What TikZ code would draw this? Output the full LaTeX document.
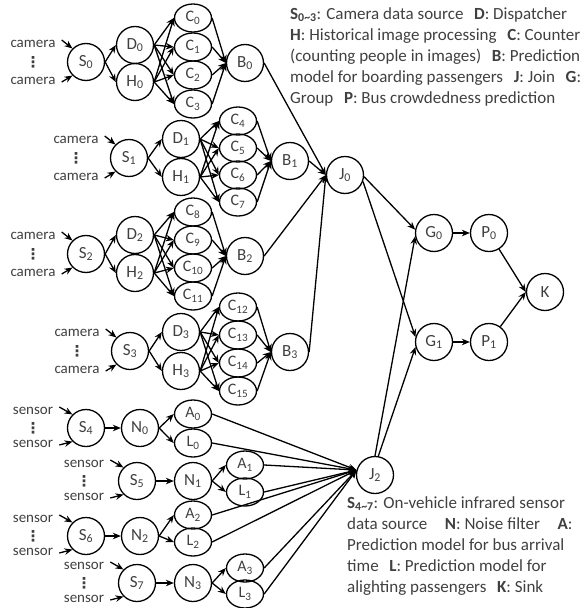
\documentclass[tikz,border=0pt]{standalone}
\usepackage{fontspec}
\setmainfont{Carlito}
\newfontfamily\symfont{DejaVu Sans}
\usetikzlibrary{arrows.meta,shapes.geometric}
\definecolor{labgray}{HTML}{404040}
\newcommand{\sub}[1]{\textsubscript{#1}}

\begin{document}
\begin{tikzpicture}[x=1pt,y=-1pt,
    op/.style={circle,draw,line width=1.3pt,minimum size=37pt,inner sep=0pt,
      text=labgray,font=\fontsize{17}{17}\selectfont},
    cnt/.style={ellipse,draw,line width=1.3pt,minimum width=37pt,minimum height=28pt,
      inner sep=0pt,text=labgray,font=\fontsize{16}{16}\selectfont},
    src/.style={text=labgray,font=\fontsize{15}{15}\selectfont,inner sep=1pt},
    vdots/.style={text=labgray,font=\fontsize{15}{15}\symfont\bfseries,inner sep=0pt},
    arr/.style={line width=1.3pt,-{Stealth[length=8pt,width=6.5pt]}},
    legend/.style={text=labgray,font=\fontsize{17}{21}\selectfont,align=left,inner sep=0pt}]
  \useasboundingbox (0,0) rectangle (588,608);

  % Camera sources, dispatchers, historical processing
  \node[op] (S0) at (86,62) {S\sub{0}};
  \node[op] (D0) at (135,45) {D\sub{0}};
  \node[op] (H0) at (135,82) {H\sub{0}};
  \node[op] (S1) at (129,158) {S\sub{1}};
  \node[op] (D1) at (181,139) {D\sub{1}};
  \node[op] (H1) at (181,177) {H\sub{1}};
  \node[op] (S2) at (86,254) {S\sub{2}};
  \node[op] (D2) at (135,235) {D\sub{2}};
  \node[op] (H2) at (135,273) {H\sub{2}};
  \node[op] (S3) at (130,351) {S\sub{3}};
  \node[op] (D3) at (181,332) {D\sub{3}};
  \node[op] (H3) at (181,371) {H\sub{3}};

  % Counters
  \node[cnt] (C0) at (193,18) {C\sub{0}};
  \node[cnt] (C1) at (193,47) {C\sub{1}};
  \node[cnt] (C2) at (193,75) {C\sub{2}};
  \node[cnt] (C3) at (193,104) {C\sub{3}};
  \node[cnt] (C4) at (238,121) {C\sub{4}};
  \node[cnt] (C5) at (238,148) {C\sub{5}};
  \node[cnt] (C6) at (238,175) {C\sub{6}};
  \node[cnt] (C7) at (238,202) {C\sub{7}};
  \node[cnt] (C8) at (193,212) {C\sub{8}};
  \node[cnt] (C9) at (193,240) {C\sub{9}};
  \node[cnt] (C10) at (193,268) {C\sub{10}};
  \node[cnt] (C11) at (193,296) {C\sub{11}};
  \node[cnt] (C12) at (238,307) {C\sub{12}};
  \node[cnt] (C13) at (238,335) {C\sub{13}};
  \node[cnt] (C14) at (238,363) {C\sub{14}};
  \node[cnt] (C15) at (238,391) {C\sub{15}};

  % Boarding prediction
  \node[op] (B0) at (245,63) {B\sub{0}};
  \node[op] (B1) at (290,161) {B\sub{1}};
  \node[op] (B2) at (245,256) {B\sub{2}};
  \node[op] (B3) at (290,352) {B\sub{3}};

  % Infrared sensor sources and noise filters
  \node[op] (S4) at (86,428) {S\sub{4}};
  \node[op] (N0) at (140,428) {N\sub{0}};
  \node[op] (S5) at (137,481) {S\sub{5}};
  \node[op] (N1) at (193,481) {N\sub{1}};
  \node[op] (S6) at (86,536) {S\sub{6}};
  \node[op] (N2) at (140,536) {N\sub{2}};
  \node[op] (S7) at (137,583) {S\sub{7}};
  \node[op] (N3) at (193,583) {N\sub{3}};

  % Arrival / alighting prediction
  \node[cnt] (A0) at (193,414) {A\sub{0}};
  \node[cnt] (L0) at (193,443) {L\sub{0}};
  \node[cnt] (A1) at (245,465) {A\sub{1}};
  \node[cnt] (L1) at (245,492) {L\sub{1}};
  \node[cnt] (A2) at (193,515) {A\sub{2}};
  \node[cnt] (L2) at (193,542) {L\sub{2}};
  \node[cnt] (A3) at (245,568) {A\sub{3}};
  \node[cnt] (L3) at (245,594) {L\sub{3}};

  % Join, group, crowdedness, sink
  \node[op] (J0) at (345,175) {J\sub{0}};
  \node[op] (J2) at (375,475) {J\sub{2}};
  \node[op] (G0) at (434,233) {G\sub{0}};
  \node[op] (P0) at (489,233) {P\sub{0}};
  \node[op] (G1) at (434,342) {G\sub{1}};
  \node[op] (P1) at (489,342) {P\sub{1}};
  \node[op] (K) at (545,292) {K};

  % Inputs of each source
  \foreach \s/\w/\up/\dn in {S0/camera/-18/19,S1/camera/-18/19,S2/camera/-18/19,S3/camera/-18/19,
                             S4/sensor/-17/16,S5/sensor/-17/16,S6/sensor/-17/16,S7/sensor/-17/16}{
    \node[src] (\s-up) at ([shift={(-53,\up)}]\s) {\w};
    \node[vdots] (\s-dots) at ([xshift=-53]\s) {⋮};
    \node[src] (\s-dn) at ([shift={(-53,\dn)}]\s) {\w};
    \draw[arr] ([shift={(5,-4)}]\s-up.east) -- (\s.135);
    \draw[arr] ([shift={(5,1)}]\s-dn.east) -- (\s.225);
  }

  % Edges (camera part)
  \foreach \g/\cl in {0/{0,1,2,3},1/{4,5,6,7},2/{8,9,10,11},3/{12,13,14,15}}{
    \draw[arr] (S\g.east) -- (D\g.west);
    \draw[arr] (S\g.east) -- (H\g.west);
    \foreach \c in \cl{
      \draw[arr] (D\g.east) -- (C\c.west);
      \draw[arr] (H\g.east) -- (C\c.west);
      \draw[arr] (C\c.east) -- (B\g.west);
    }
    \draw[arr] (B\g.east) -- (J0.west);
  }

  % Edges (sensor part)
  \foreach \n [evaluate=\n as \s using int(\n+4)] in {0,...,3}{
    \draw[arr] (S\s.east) -- (N\n.west);
    \draw[arr] (N\n.east) -- (A\n.west);
    \draw[arr] (N\n.east) -- (L\n.west);
    \draw[arr] (A\n.east) -- (J2.165);
    \draw[arr] (L\n.east) -- (J2.165);
  }

  % Edges (right part)
  \draw[arr] (J0.-5) -- (G0.170);
  \draw[arr] (J0.-20) -- (G1.165);
  \draw[arr] (J2.north) -- (G0.190);
  \draw[arr] (J2.80) -- (G1.195);
  \draw[arr] (G0) -- (P0);
  \draw[arr] (G1) -- (P1);
  \draw[arr] (P0) -- (K.west);
  \draw[arr] (P1) -- (K.west);

  % Legends
  \node[legend,anchor=north west] (legA) at (290,7)
    {\textbf{S\sub{0\textasciitilde3}}: Camera data source\hspace{0.4em} \textbf{D}: Dispatcher\\
     \textbf{H}: Historical image processing\hspace{0.4em} \textbf{C}: Counter\\
     (counting people in images)\hspace{0.4em} \textbf{B}: Prediction\\
     model for boarding passengers\hspace{0.4em} \textbf{J}: Join\hspace{0.4em} \textbf{G}:\\
     Group\hspace{0.4em} \textbf{P}: Bus crowdedness prediction};
  \node[legend,anchor=north west] (legB) at (347,496)
    {\textbf{S\sub{4\textasciitilde7}}: On-vehicle infrared sensor\\
     data source\hspace{0.8em} \textbf{N}: Noise filter\hspace{0.8em} \textbf{A}:\\
     Prediction model for bus arrival\\
     time\hspace{0.4em} \textbf{L}: Prediction model for\\
     alighting passengers\hspace{0.4em} \textbf{K}: Sink};
\end{tikzpicture}
\end{document}
